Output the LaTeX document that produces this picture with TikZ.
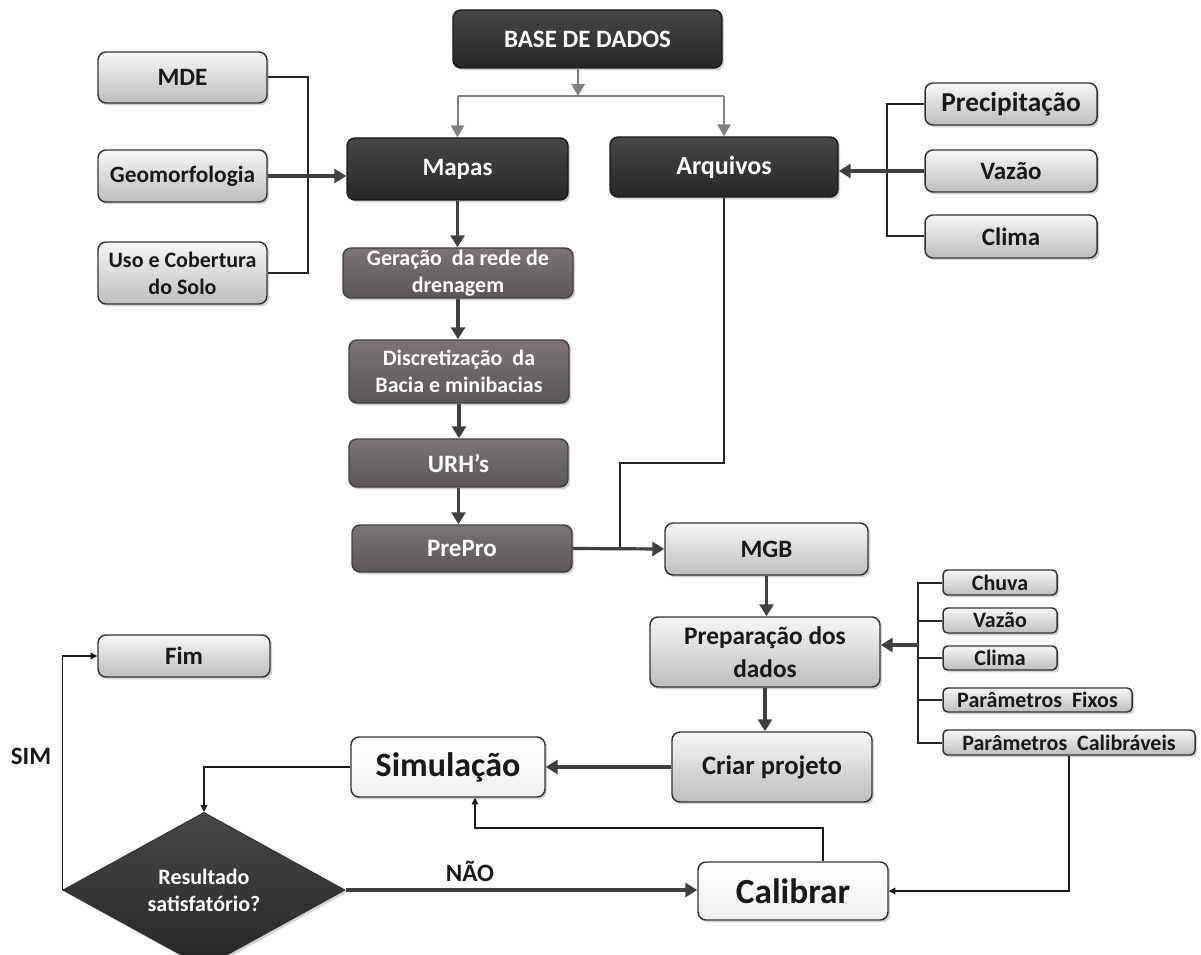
\documentclass[tikz,border=0pt]{standalone}
\usepackage{fontspec}
\setmainfont{Carlito}
\usetikzlibrary{arrows.meta,shapes.geometric,shadows,calc}
\definecolor{dkTop}{HTML}{474747}
\definecolor{dkBot}{HTML}{262626}
\definecolor{mdTop}{HTML}{7A7574}
\definecolor{mdBot}{HTML}{5C5757}
\definecolor{ltTop}{HTML}{F7F7F7}
\definecolor{ltBot}{HTML}{BDBDBD}
\definecolor{edge}{HTML}{333333}
\definecolor{topline}{HTML}{808080}
\definecolor{arrowc}{HTML}{404040}
\newcommand{\fmain}{\fontsize{18.75pt}{24pt}\selectfont}
\newcommand{\fmed}{\fontsize{16.5pt}{20.25pt}\selectfont}
\newcommand{\fsml}{\fontsize{16.5pt}{18pt}\selectfont}
\newcommand{\fbig}{\fontsize{25.5pt}{30pt}\selectfont}
\begin{document}
\begin{tikzpicture}[x=0.75pt,y=-0.75pt,
  sz/.style 2 args={minimum width=#1*0.75pt, minimum height=#2*0.75pt},
  box/.style={rectangle, rounded corners=6pt, inner sep=0pt, align=center, font=\bfseries\fmain, line width=1.1pt, draw=edge,
    drop shadow={opacity=0.35,shadow xshift=1.6pt,shadow yshift=-1.8pt}},
  darkbox/.style={box, draw=black!90, top color=dkTop, bottom color=dkBot, text=white},
  midbox/.style={box, draw=black!75, top color=mdTop, bottom color=mdBot, text=white},
  lightbox/.style={box, top color=ltTop, bottom color=ltBot, text=black!90},
  whitebox/.style={box, top color=white, bottom color=black!6, text=black!90, font=\bfseries\fbig},
  smallbox/.style={lightbox, rounded corners=3.5pt, font=\bfseries\fsml},
  gline/.style={draw=topline, line width=1.5pt},
  garr/.style={gline, -{Triangle[length=9pt,width=10pt]}},
  kline/.style={draw=black!85, line width=1.5pt},
  darr/.style={draw=arrowc, line width=2.4pt, -{Triangle[length=9pt,width=10.5pt]}},
  tline/.style={draw=black!90, line width=1.1pt},
  tarr/.style={tline, -{Triangle[length=5pt,width=5pt]}},
  lbl/.style={font=\bfseries\fmain, text=black!90, inner sep=0pt}
]
\useasboundingbox (0,0) rectangle (1201,955);

% ---------- nodes ----------
\node[darkbox, sz={269}{58}] (base) at (587.5,39) {BASE DE DADOS};
\node[darkbox, sz={221}{62}] (mapas) at (457.5,169) {Mapas};
\node[darkbox, sz={228}{60}, font=\bfseries\fontsize{19.5pt}{24pt}\selectfont] (arquivos) at (724,167) {Arquivos};

\node[lightbox, sz={169}{51}] (mde) at (182.5,77.5) {MDE};
\node[lightbox, sz={169}{52}, font=\bfseries\fontsize{17.5pt}{22pt}\selectfont] (geo) at (182.5,176) {Geomorfologia};
\node[lightbox, sz={169}{62}, font=\bfseries\fmed] (uso) at (182.5,273) {Uso e Cobertura\\do Solo};

\node[lightbox, sz={172}{42}, font=\bfseries\fontsize{20.5pt}{24pt}\selectfont] (prec) at (1011,104) {Precipitação};
\node[lightbox, sz={172}{42}] (vaz) at (1011,171) {Vazão};
\node[lightbox, sz={172}{43}] (clima) at (1011,236.5) {Clima};

\node[midbox, sz={230}{50}, font=\bfseries\fmed] (gera) at (458,273) {Geração~ da rede de\\drenagem};
\node[midbox, sz={220}{63}, font=\bfseries\fmed] (disc) at (459,371.5) {Discretização~ da\\Bacia e minibacias};
\node[midbox, sz={219}{48}] (urh) at (458.5,463) {URH’s};
\node[midbox, sz={220}{47}] (prepro) at (462,548.5) {PrePro};

\node[lightbox, sz={203}{52}] (mgb) at (766.5,549) {MGB};
\node[lightbox, sz={230}{70}, font=\bfseries\fontsize{19pt}{24.75pt}\selectfont] (prep) at (765,652) {Preparação dos\\dados};
\node[lightbox, sz={200}{70}, font=\bfseries\fontsize{20pt}{24pt}\selectfont] (criar) at (772,767) {Criar projeto};

\node[smallbox, sz={114}{25}] (chuva) at (1000,582.5) {Chuva};
\node[smallbox, sz={114}{25}] (vaz2) at (1000,620.5) {Vazão};
\node[smallbox, sz={114}{24}] (clima2) at (1000,658) {Clima};
\node[smallbox, sz={189}{24}] (fixos) at (1037.5,700) {Parâmetros~ Fixos};
\node[smallbox, sz={252}{25}] (calib) at (1069,742.5) {Parâmetros~ Calibráveis};

\node[whitebox, sz={194}{60}] (sim) at (448,767) {Simulação};
\node[whitebox, sz={190}{58}, font=\bfseries\fontsize{26.5pt}{30pt}\selectfont] (cal) at (793,891) {Calibrar};
\node[lightbox, sz={172}{42}] (fim) at (184,656) {Fim};

\node[diamond, sz={282}{124}, inner sep=0pt, draw=black!80, line width=0.8pt,
      top color=dkTop, bottom color=dkBot, text=white, align=center,
      font=\bfseries\fontsize{16.5pt}{20.25pt}\selectfont,
      drop shadow={opacity=0.35,shadow xshift=1.6pt,shadow yshift=-1.8pt}] (dia) at (204,890) {Resultado\\satisfatório?};

\node[lbl] (simlbl) at (31,756) {SIM};
\node[lbl] (naolbl) at (470,871) {NÃO};

% ---------- connectors ----------
\coordinate (split) at (578,96);
\draw[garr] ([xshift=-7pt]base.south) -- (split);
\draw[gline] (mapas.north |- split) -- (arquivos.north |- split);
\draw[garr] (mapas.north |- split) -- (mapas.north);
\draw[garr] (arquivos.north |- split) -- (arquivos.north);

\coordinate (bxL) at (308,0);
\draw[kline] (mde.east) -| (bxL |- uso.east) -- (uso.east);
\draw[darr] (geo.east) -- (geo.east -| mapas.west);

\coordinate (bxR) at (887,0);
\draw[kline] (prec.west) -| (bxR |- clima.west) -- (clima.west);
\draw[darr] (vaz.west) -- (vaz.west -| arquivos.east);

\draw[darr] (mapas.south) -- (mapas.south |- gera.north);
\draw[darr] (gera.south) -- (gera.south |- disc.north);
\draw[darr] (disc.south) -- (disc.south |- urh.north);
\draw[darr] (urh.south) -- (urh.south |- prepro.north);

\coordinate (j1) at (620,463);
\draw[kline] (arquivos.south) |- (j1) -- (j1 |- prepro.east);
\draw[darr] (prepro.east) -- (mgb.west);

\draw[darr] (mgb.south) -- (mgb.south |- prep.north);
\draw[darr] (prep.south) -- (prep.south |- criar.north);

\coordinate (bxS) at (918,0);
\draw[kline] (chuva.west) -| (bxS |- calib.west) -- (calib.west);
\draw[kline] (bxS |- vaz2.west) -- (vaz2.west);
\draw[kline] (bxS |- clima2.west) -- (clima2.west);
\draw[kline] (bxS |- fixos.west) -- (fixos.west);
\coordinate (bp) at (918,645);
\draw[darr] (bp) -- (bp -| prep.east);

\draw[darr] (criar.west) -- (criar.west -| sim.east);
\draw[tarr] (sim.west) -| (dia.north);
\draw[tarr] (dia.west) |- (fim.west);
\draw[darr] (dia.east) -- (dia.east -| cal.west);

\coordinate (ct) at (823,828);
\coordinate (st) at (475,0);
\draw[tarr] (ct |- cal.north) -- (ct) -| (st |- sim.south);
\draw[tarr] (calib.south) |- (cal.east);
\end{tikzpicture}
\end{document}
